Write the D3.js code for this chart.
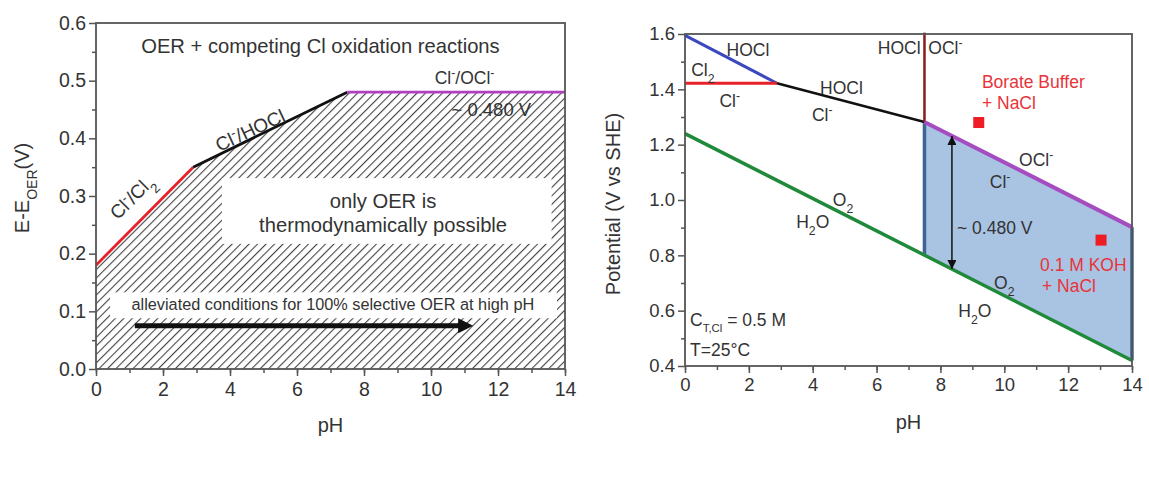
<!DOCTYPE html>
<html>
<head>
<meta charset="utf-8">
<script src="https://cdn.jsdelivr.net/npm/d3@7"></script>
<style>
  body { margin: 0; background: #fff; }
  svg { font-family: "Liberation Sans", Arial, sans-serif; }
  .tick text { fill: #333; }
  .lbl { font-size: 17.5px; fill: #333; }
</style>
</head>
<body>
<svg id="chart" width="1149" height="480"></svg>
<script>
// left panel: boundary of competing Cl oxidation vs OER
var leftPH = [0, 2.9, 7.5, 14];
var leftE = [0.18, 0.35, 0.48, 0.48];
var leftColors = ["#e8202a", "#111", "#b040c0"];

// right panel: Pourbaix lines
var blueLine = { ph: [0, 2.88], e: [1.595, 1.422] };
var redLine = { ph: [0, 2.88], e: [1.422, 1.422] };
var blackLine = { ph: [2.88, 7.5], e: [1.422, 1.282] };
var hoclVertical = { ph: [7.5, 7.5], e: [1.282, 1.605] };
var purpleLine = { ph: [7.5, 14], e: [1.282, 0.902] };
var greenLine = { ph: [0, 14], e: [1.24, 0.42] };
var squares = [[9.2, 1.28], [13.03, 0.855]];
var arrowPH = 8.36;

var leftYTicks = [0.0, 0.1, 0.2, 0.3, 0.4, 0.5, 0.6];
var rightYTicks = [0.4, 0.6, 0.8, 1.0, 1.2, 1.4, 1.6];
var xTicks = [0, 2, 4, 6, 8, 10, 12, 14];

var svg = d3.select("#chart");
var defs = svg.append("defs");

var hatch = defs.append("pattern")
    .attr("id", "hatch")
    .attr("patternUnits", "userSpaceOnUse")
    .attr("width", 6).attr("height", 6)
    .attr("patternTransform", "rotate(45)");
hatch.append("line")
    .attr("x1", 0).attr("y1", 0).attr("x2", 0).attr("y2", 6)
    .attr("stroke", "#444").attr("stroke-width", 2.2);

["arrowEnd", "arrowStart"].forEach(function(id, i) {
    defs.append("marker")
        .attr("id", id)
        .attr("viewBox", "0 0 10 10")
        .attr("refX", 10).attr("refY", 5)
        .attr("markerWidth", 6).attr("markerHeight", 6)
        .attr("orient", i == 0 ? "auto" : "auto-start-reverse")
        .append("path").attr("d", "M0,0 L10,5 L0,10 z").attr("fill", "#111");
});
defs.append("marker")
    .attr("id", "bigArrow")
    .attr("viewBox", "0 0 10 10")
    .attr("refX", 2).attr("refY", 5)
    .attr("markerWidth", 4.5).attr("markerHeight", 3)
    .attr("markerUnits", "strokeWidth")
    .attr("orient", "auto")
    .append("path").attr("d", "M0,0 L10,5 L0,10 z").attr("fill", "#111");

function interp(line, ph) {
    return d3.scaleLinear().domain(line.ph).range(line.e)(ph);
}

function drawAxes(g, x, y, yTicks, yMinor, fs, xPad) {
    var h = y.range()[0], w = x.range()[1];
    g.append("g").attr("transform", "translate(0," + h + ")")
        .call(d3.axisBottom(x).tickValues(d3.range(0, 15, 1)).tickSize(4).tickFormat(""))
        .call(s => s.select(".domain").remove());
    g.append("g").attr("transform", "translate(0," + h + ")")
        .call(d3.axisBottom(x).tickValues(xTicks).tickSize(7).tickPadding(xPad).tickFormat(d3.format("d")))
        .call(s => s.select(".domain").remove());
    g.append("g")
        .call(d3.axisLeft(y).tickValues(yMinor).tickSize(4).tickFormat(""))
        .call(s => s.select(".domain").remove());
    g.append("g")
        .call(d3.axisLeft(y).tickValues(yTicks).tickSize(7).tickPadding(3).tickFormat(d3.format(".1f")))
        .call(s => s.select(".domain").remove());
    g.selectAll(".tick line").attr("stroke", "#555").attr("stroke-width", 1.5);
    g.selectAll(".tick text").style("font-size", fs + "px");
    g.append("rect").attr("x", 0).attr("y", 0).attr("width", w).attr("height", h)
        .attr("fill", "none").attr("stroke", "#555").attr("stroke-width", 1.8);
}

function sub(t, main, s) {
    t.append("tspan").text(main);
    t.append("tspan").attr("baseline-shift", "sub").attr("font-size", "0.7em").text(s);
}
function sup(t, main) {
    t.append("tspan").text(main);
    t.append("tspan").attr("baseline-shift", "super").attr("font-size", "0.7em").text("-");
}

// ---------- left panel ----------
var lx = d3.scaleLinear().domain([0, 14]).range([0, 469]);
var ly = d3.scaleLinear().domain([0, 0.6]).range([346, 0]);
var L = svg.append("g").attr("transform", "translate(96,23)");

var leftPts = leftPH.map((p, i) => [p, leftE[i]]);
L.append("path")
    .datum(leftPts)
    .attr("d", d3.area().x(d => lx(d[0])).y0(ly(0)).y1(d => ly(d[1])))
    .attr("fill", "url(#hatch)");

// white label boxes over the hatch
L.append("rect").attr("x", lx(3.76)).attr("y", ly(0.331))
    .attr("width", lx(13.6) - lx(3.76)).attr("height", ly(0.217) - ly(0.331)).attr("fill", "#fff");
L.append("rect").attr("x", lx(0.42)).attr("y", ly(0.133))
    .attr("width", lx(13.76) - lx(0.42)).attr("height", ly(0.088) - ly(0.133)).attr("fill", "#fff");

for (var i = 0; i < leftPts.length - 1; i++) {
    L.append("path")
        .datum([leftPts[i], leftPts[i + 1]])
        .attr("d", d3.line().x(d => lx(d[0])).y(d => ly(d[1])))
        .attr("stroke", leftColors[i]).attr("stroke-width", 2.8).attr("fill", "none");
}

L.append("line")
    .attr("x1", lx(1.16)).attr("x2", lx(10.9))
    .attr("y1", ly(0.075)).attr("y2", ly(0.075))
    .attr("stroke", "#111").attr("stroke-width", 5)
    .attr("marker-end", "url(#bigArrow)");

drawAxes(L, lx, ly, leftYTicks, d3.range(0.05, 0.6, 0.1), 19.5, 6);

L.append("text").attr("class", "lbl").attr("x", lx(6.7)).attr("y", ly(0.56)).attr("dy", "0.35em")
    .attr("text-anchor", "middle").style("font-size", "20.2px").text("OER + competing Cl oxidation reactions");
var t = L.append("text").attr("class", "lbl").attr("x", lx(11.0)).attr("y", ly(0.505)).attr("dy", "0.35em")
    .attr("text-anchor", "middle");
sup(t, "Cl"); t.append("tspan").text("/"); sup(t, "OCl");
L.append("text").attr("class", "lbl").attr("x", lx(11.8)).attr("y", ly(0.45)).attr("dy", "0.35em")
    .attr("text-anchor", "middle").style("font-size", "18.5px").text("~ 0.480 V");
t = L.append("text").attr("class", "lbl").style("font-size", "19px")
    .attr("transform", "translate(" + lx(4.6) + "," + ly(0.414) + ") rotate(-25)")
    .attr("text-anchor", "middle").attr("dy", "0.35em");
sup(t, "Cl"); t.append("tspan").text("/HOCl");
t = L.append("text").attr("class", "lbl").style("font-size", "19px")
    .attr("transform", "translate(" + lx(1.07) + "," + ly(0.298) + ") rotate(-45)")
    .attr("text-anchor", "middle").attr("dy", "0.35em");
sup(t, "Cl"); t.append("tspan").text("/"); sub(t, "Cl", "2");
L.append("text").attr("class", "lbl").attr("x", lx(8.57)).attr("y", ly(0.291)).attr("dy", "0.35em")
    .attr("text-anchor", "middle").style("font-size", "20.2px").text("only OER is");
L.append("text").attr("class", "lbl").attr("x", lx(8.57)).attr("y", ly(0.250)).attr("dy", "0.35em")
    .attr("text-anchor", "middle").style("font-size", "20.2px").text("thermodynamically possible");
L.append("text").attr("class", "lbl").attr("x", lx(7.07)).attr("y", ly(0.113)).attr("dy", "0.35em")
    .attr("text-anchor", "middle").style("font-size", "16.3px").text("alleviated conditions for 100% selective OER at high pH");
L.append("text").attr("class", "lbl").attr("x", lx(7.0)).attr("y", 409)
    .attr("text-anchor", "middle").style("font-size", "20px").text("pH");
t = L.append("text").attr("class", "lbl").style("font-size", "20px")
    .attr("transform", "translate(-74,165) rotate(-90)").attr("text-anchor", "middle").attr("dy", "0.35em");
sub(t, "E-E", "OER"); t.append("tspan").text("(V)");

// ---------- right panel ----------
var rx = d3.scaleLinear().domain([0, 14]).range([0, 447]);
var ry = d3.scaleLinear().domain([0.4, 1.6]).range([332, 0]);
var R = svg.append("g").attr("transform", "translate(685,34)");
var line = d3.line().x(d => rx(d[0])).y(d => ry(d[1]));
function pts(l) { return l.ph.map((p, i) => [p, l.e[i]]); }

// shaded window between O2 evolution and hypochlorite formation
var shadePH = purpleLine.ph;
var shade = pts(purpleLine).concat(shadePH.slice().reverse().map(p => [p, interp(greenLine, p)]));
R.append("path").datum(shade).attr("d", line.curve(d3.curveLinearClosed)).attr("fill", "#a9c3e3");
line.curve(d3.curveLinear);
shadePH.forEach(function(p) {
    R.append("path").datum([[p, interp(greenLine, p)], [p, interp(purpleLine, p)]])
        .attr("d", line).attr("stroke", "#3d6591").attr("stroke-width", 3.5);
});

[[blueLine, "#3b48c0", 3], [redLine, "#e8202a", 3], [blackLine, "#111", 2.5],
 [hoclVertical, "#8b1a1a", 2.5], [purpleLine, "#a44cc0", 4], [greenLine, "#1f8a3a", 3.5]]
    .forEach(function(d) {
        R.append("path").datum(pts(d[0])).attr("d", line)
            .attr("stroke", d[1]).attr("stroke-width", d[2]).attr("fill", "none");
    });

R.append("line")
    .attr("x1", rx(arrowPH)).attr("x2", rx(arrowPH))
    .attr("y1", ry(interp(greenLine, arrowPH))).attr("y2", ry(interp(purpleLine, arrowPH)))
    .attr("stroke", "#111").attr("stroke-width", 1.5)
    .attr("marker-start", "url(#arrowStart)").attr("marker-end", "url(#arrowEnd)");

R.selectAll(".sq").data(squares).enter().append("rect")
    .attr("x", d => rx(d[0]) - 5.5).attr("y", d => ry(d[1]) - 5.5)
    .attr("width", 11).attr("height", 11).attr("fill", "#ee1c24");

drawAxes(R, rx, ry, rightYTicks, d3.range(0.5, 1.6, 0.2), 18.5, 5);

function rtext(ph, e, anchor) {
    return R.append("text").attr("class", "lbl").attr("x", rx(ph)).attr("y", ry(e))
        .attr("dy", "0.35em").attr("text-anchor", anchor || "middle");
}
rtext(1.97, 1.542).text("HOCl");
sub(rtext(0.56, 1.47), "Cl", "2");
sup(rtext(1.4, 1.36), "Cl");
rtext(4.9, 1.405).text("HOCl");
sup(rtext(4.3, 1.307), "Cl");
rtext(7.38, 1.55, "end").text("HOCl");
sup(rtext(7.62, 1.55, "start"), "OCl");
sup(rtext(11.0, 1.145), "OCl");
sup(rtext(9.87, 1.065), "Cl");
rtext(8.52, 0.90, "start").text("~ 0.480 V");
sub(rtext(4.95, 1.0), "O", "2");
t = rtext(4.0, 0.92); sub(t, "H", "2"); t.append("tspan").text("O");
sub(rtext(10.0, 0.70), "O", "2");
t = rtext(9.08, 0.60); sub(t, "H", "2"); t.append("tspan").text("O");
rtext(9.3, 1.427, "start").style("fill", "#e8343a").text("Borate Buffer");
rtext(9.3, 1.35, "start").style("fill", "#e8343a").text("+ NaCl");
rtext(11.12, 0.765, "start").style("fill", "#e8343a").text("0.1 M KOH");
rtext(11.18, 0.69, "start").style("fill", "#e8343a").text("+ NaCl");
t = rtext(0.16, 0.567, "start"); t.append("tspan").text("C");
t.append("tspan").attr("baseline-shift", "sub").attr("font-size", "0.65em").text("T,Cl");
t.append("tspan").text(" = 0.5 M");
rtext(0.16, 0.458, "start").text("T=25\u00b0C");

R.append("text").attr("class", "lbl").attr("x", rx(7.0)).attr("y", 395)
    .attr("text-anchor", "middle").style("font-size", "20px").text("pH");
R.append("text").attr("class", "lbl").style("font-size", "20px")
    .attr("transform", "translate(-72,170) rotate(-90)").attr("text-anchor", "middle").attr("dy", "0.35em")
    .text("Potential (V vs SHE)");
</script>
</body>
</html>
